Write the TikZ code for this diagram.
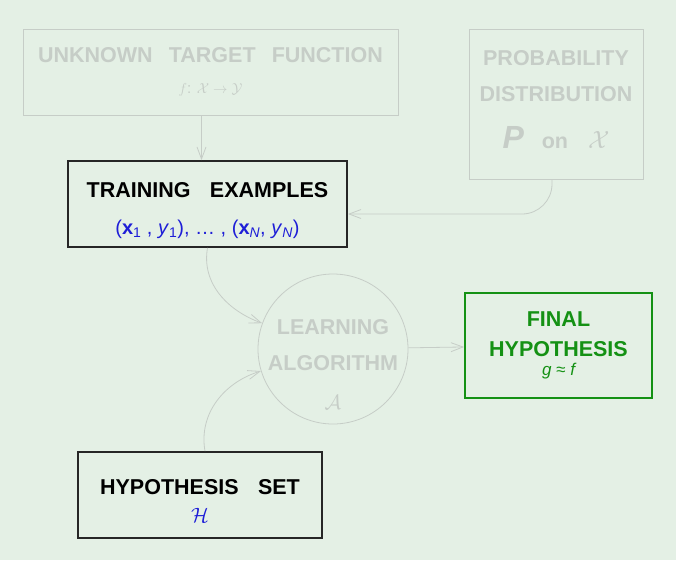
\documentclass[tikz,border=0pt]{standalone}
\usepackage{fontspec}
\setmainfont{Liberation Sans}
\usepackage{amsmath}
\usepackage{xcolor}
\usetikzlibrary{arrows.meta,positioning,calc}
\definecolor{bggreen}{RGB}{228,240,229}
\definecolor{fadegray}{RGB}{198,205,199}
\definecolor{exblue}{RGB}{30,30,215}
\definecolor{finalgreen}{RGB}{20,145,20}
\newcommand{\wordgap}{\hspace{0.9em}}

\begin{document}
\begin{tikzpicture}[
    x=1pt, y=-1pt,
    >={Straight Barb[length=12pt,width=9pt]},
    box/.style={
        rectangle, line width=0.8pt, inner sep=0pt,
        align=center, font=\bfseries\fontsize{21.5}{36}\selectfont
    },
    fadedbox/.style={box, draw=fadegray, text=fadegray},
    activebox/.style={box, draw=black!85, line width=1.8pt, text=black},
    finalbox/.style={box, draw=finalgreen, line width=1.8pt, text=finalgreen},
    algocircle/.style={
        circle, draw=fadegray, line width=0.8pt, inner sep=-20pt,
        minimum size=150pt, align=center, text=fadegray,
        font=\bfseries\fontsize{21.5}{36}\selectfont
    },
    arrow/.style={->, line width=0.8pt, fadegray}
]

% 배경
\fill[bggreen] (0,0) rectangle (676,560);
\useasboundingbox (0,0) rectangle (676,560);

% 상단: 목표 함수, 확률 분포
\node[fadedbox, minimum width=375pt, minimum height=86pt] (target) at (210.5,72)
    {UNKNOWN\hspace{0.75em}TARGET\hspace{0.75em}FUNCTION\\[-5pt]
     {\mdseries\fontsize{15}{18}\selectfont$f$: $\mathcal{X}\to\mathcal{Y}$}};
\node[fadedbox, minimum width=174pt, minimum height=150pt] (prob) at (556,104)
    {PROBABILITY\\ DISTRIBUTION\\[11pt]
     {\fontsize{32}{36}\selectfont\itshape P}\hspace{18pt}on\hspace{20pt}{\mdseries\fontsize{38}{36}\selectfont$\mathcal{X}$}\rule[-10pt]{0pt}{10pt}};

% 중단: 학습 데이터, 알고리즘, 최종 가설
\node[activebox, minimum width=279pt, minimum height=86pt] (train) at (207.5,204)
    {\rule{0pt}{28pt}TRAINING\wordgap EXAMPLES\\[1pt]
     {\mdseries\color{exblue}\fontsize{20}{24}\selectfont(\textbf{x}\textsubscript{1} , \textit{y}\textsubscript{1}), \dots\ , (\textbf{x}\textsubscript{\textit{N}}, \textit{y}\textsubscript{\textit{N}})}};
\node[algocircle] (algo) at (333,349)
    {\mbox{}\\[9pt]LEARNING\\ ALGORITHM\\[3pt]
     {\mdseries\fontsize{20}{24}\selectfont$\mathcal{A}$}};
\node[finalbox, minimum width=187pt, minimum height=105pt] (final) at (558.5,345.5)
    {FINAL\\[-6pt] HYPOTHESIS\\[-17pt]
     {\mdseries\itshape\fontsize{17}{20}\selectfont g ≈ f}};

% 하단: 가설 집합
\node[activebox, minimum width=244pt, minimum height=86pt] (hypset) at (200,495)
    {\rule{0pt}{27pt}HYPOTHESIS\wordgap SET\\[-8pt]
     {\mdseries\color{exblue}\fontsize{21}{24}\selectfont$\mathcal{H}$}};

% 화살표
\draw[arrow] ([xshift=-6pt]train.north |- target.south) -- ([xshift=-6pt]train.north);
\draw[arrow, rounded corners=30pt] ([xshift=-4pt]prob.south) |- ([yshift=-10pt]train.east);
\draw[arrow] (train.south) to[out=-100, in=160] (algo);
\draw[arrow] ([xshift=5pt]hypset.north) to[out=100, in=197] (algo);
\draw[arrow] (algo) -- (final);

\end{tikzpicture}
\end{document}
